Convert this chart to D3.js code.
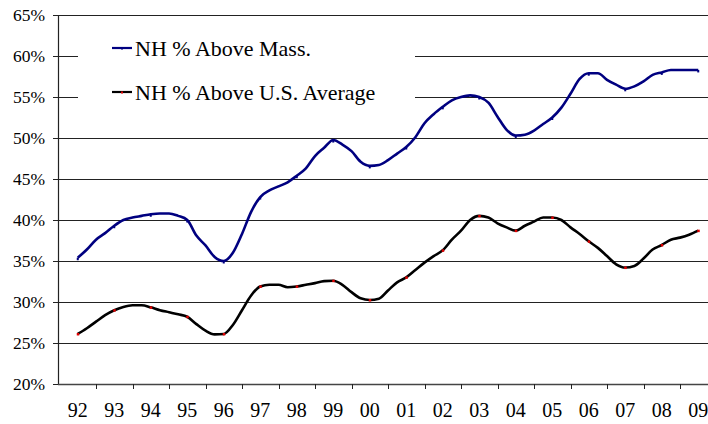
<!DOCTYPE html>
<html>
<head>
<meta charset="utf-8">
<script src="https://cdn.jsdelivr.net/npm/d3@7/dist/d3.min.js"></script>
<style>
  body { margin: 0; background: #fff; }
  svg { display: block; }
</style>
</head>
<body>
<svg id="chart" width="708" height="424"></svg>
<script>
// -------- Data (quarterly readings, 1992 .. 2009) --------
const years = ["92", "93", "94", "95", "96", "97", "98", "99", "00",
               "01", "02", "03", "04", "05", "06", "07", "08", "09"];

const yTicks = [20, 25, 30, 35, 40, 45, 50, 55, 60, 65];

const seriesNames = ["NH % Above Mass.", "NH % Above U.S. Average"];

// NH % above Massachusetts
const aboveMass = [
  35.4, 36.4, 37.6, 38.4, 39.3, 40.0, 40.3, 40.5,
  40.7, 40.8, 40.8, 40.5, 40.0, 38.1, 36.9, 35.5,
  35.0, 36.0, 38.3, 41.0, 42.8, 43.6, 44.1, 44.6,
  45.4, 46.3, 47.8, 48.8, 49.75, 49.2, 48.4, 47.1,
  46.6, 46.7, 47.3, 48.1, 48.9, 50.1, 51.8, 52.9,
  53.8, 54.6, 55.0, 55.2, 55.0, 54.3, 52.6, 51.0,
  50.3, 50.4, 50.9, 51.7, 52.5, 53.7, 55.4, 57.2,
  57.9, 57.9, 57.1, 56.5, 56.0, 56.3, 56.9, 57.7,
  58.0, 58.3, 58.3, 58.3, 58.3
];

// NH % above U.S. average
const aboveUS = [
  26.1, 26.8, 27.6, 28.4, 29.0, 29.4, 29.6, 29.6,
  29.35, 29.0, 28.75, 28.5, 28.2, 27.3, 26.5, 26.05,
  26.1, 27.2, 29.0, 30.8, 31.9, 32.1, 32.1, 31.8,
  31.9, 32.1, 32.3, 32.55, 32.6, 32.1, 31.2, 30.45,
  30.25, 30.4, 31.4, 32.4, 33.0, 33.9, 34.8, 35.6,
  36.3, 37.6, 38.7, 40.0, 40.5, 40.3, 39.6, 39.1,
  38.7, 39.3, 39.8, 40.3, 40.3, 40.0, 39.1, 38.3,
  37.4, 36.6, 35.6, 34.6, 34.2, 34.4, 35.3, 36.4,
  36.95, 37.6, 37.85, 38.2, 38.7
];

const FONT = "'Liberation Serif', 'Times New Roman', serif";

// -------- Layout --------
const svg = d3.select("#chart");
const plotLeft = 59.5, plotRight = 716.5, plotTop = 15, plotBottom = 384;

const xBand = d3.scaleBand().domain(years).range([plotLeft, plotRight]);
// quarter index -> position (year centre at each band centre)
const xQ = d3.scaleLinear().domain([-2, (years.length - 0.5) * 4]).range([plotLeft, plotRight]);
const y = d3.scaleLinear().domain([20, 65]).range([plotBottom, plotTop]);

// -------- Gridlines --------
svg.append("g")
  .selectAll("line")
  .data(yTicks.filter(d => d > 20))
  .join("line")
  .attr("x1", 58).attr("x2", 708)
  .attr("y1", d => Math.round(y(d)) + 0.5)
  .attr("y2", d => Math.round(y(d)) + 0.5)
  .attr("stroke", "#222")
  .attr("stroke-width", 1);

// -------- Y axis --------
const gy = svg.append("g")
  .attr("transform", "translate(58,0)")
  .call(d3.axisLeft(y).tickValues(yTicks).tickFormat(d => d + "%").tickSize(5).tickPadding(8));
gy.select(".domain").attr("stroke", "#222").attr("stroke-width", 1.2);
gy.selectAll(".tick line").attr("stroke", "#222");
gy.selectAll("text")
  .style("font-family", FONT).style("font-size", "17.5px")
  .attr("fill", "#000");

// -------- X axis --------
const gx = svg.append("g")
  .attr("transform", `translate(0,${plotBottom})`)
  .call(d3.axisBottom(xBand).tickSize(0).tickPadding(18.5));
gx.select(".domain").remove();
gx.selectAll("text")
  .style("font-family", FONT).style("font-size", "20px")
  .attr("fill", "#000");

svg.append("line")
  .attr("x1", 58).attr("x2", 708)
  .attr("y1", plotBottom + 0.5).attr("y2", plotBottom + 0.5)
  .attr("stroke", "#444").attr("stroke-width", 1.6);

svg.append("g")
  .selectAll("line")
  .data(years.slice(1))
  .join("line")
  .attr("x1", d => Math.round(xBand(d)) + 0.5)
  .attr("x2", d => Math.round(xBand(d)) + 0.5)
  .attr("y1", plotBottom).attr("y2", plotBottom + 5)
  .attr("stroke", "#222");

// -------- Legend (white box hides gridlines behind it) --------
const legend = svg.append("g");
legend.append("rect")
  .attr("x", 78).attr("y", 26).attr("width", 337).attr("height", 90)
  .attr("fill", "#fff");

const legendItems = [
  { name: seriesNames[0], color: "#000080", mark: "#000080", yy: 48 },
  { name: seriesNames[1], color: "#000", mark: "#e00000", yy: 92 }
];
legendItems.forEach(it => {
  legend.append("line")
    .attr("x1", 112).attr("x2", 132)
    .attr("y1", it.yy).attr("y2", it.yy)
    .attr("stroke", it.color).attr("stroke-width", 2.2);
  legend.append("rect")
    .attr("x", 121).attr("y", it.yy - 0.5).attr("width", 2).attr("height", 2)
    .attr("fill", it.mark);
  legend.append("text")
    .attr("x", 135).attr("y", it.yy + 8)
    .style("font-family", FONT).style("font-size", "22px")
    .text(it.name);
});

// -------- Lines --------
const line = d3.line()
  .x((d, i) => xQ(i))
  .y(d => y(d))
  .curve(d3.curveMonotoneX);

svg.append("path")
  .datum(aboveMass)
  .attr("d", line)
  .attr("fill", "none")
  .attr("stroke", "#000080")
  .attr("stroke-width", 2.6)
  .attr("stroke-linejoin", "round");

svg.append("path")
  .datum(aboveUS)
  .attr("d", line)
  .attr("fill", "none")
  .attr("stroke", "#000")
  .attr("stroke-width", 2.6)
  .attr("stroke-linejoin", "round");

// yearly markers
svg.append("g")
  .selectAll("rect")
  .data(aboveMass.map((v, i) => [i, v]).filter(d => d[0] % 4 === 0))
  .join("rect")
  .attr("x", d => xQ(d[0]) - 1).attr("y", d => y(d[1]))
  .attr("width", 2).attr("height", 2.5)
  .attr("fill", "#000080");

svg.append("g")
  .selectAll("rect")
  .data(aboveUS.map((v, i) => [i, v]).filter(d => d[0] % 4 === 0))
  .join("rect")
  .attr("x", d => xQ(d[0]) - 1).attr("y", d => y(d[1]) - 1)
  .attr("width", 2.5).attr("height", 2.5)
  .attr("fill", "#e00000");
</script>
</body>
</html>
